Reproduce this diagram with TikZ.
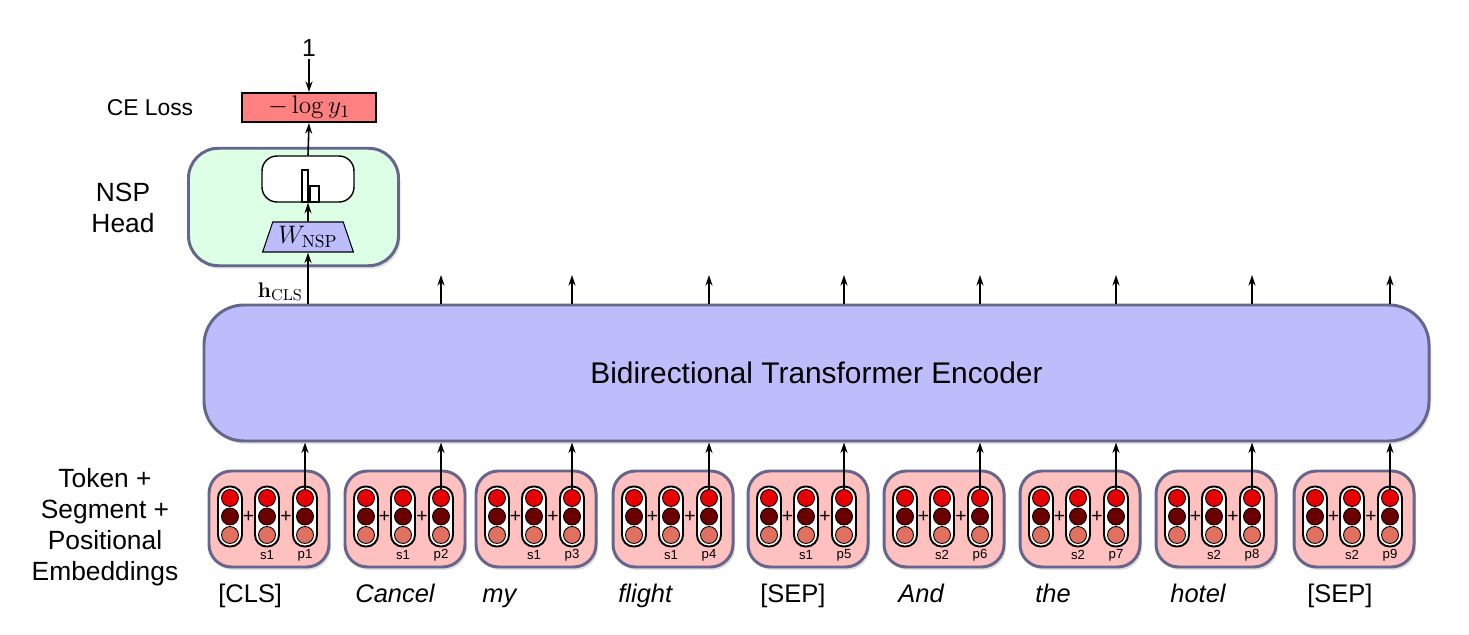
\documentclass[tikz,border=0pt]{standalone}
\usepackage[no-math]{fontspec}
\setmainfont{Liberation Sans}
\usetikzlibrary{shapes.geometric,arrows.meta,shadows}
\definecolor{encfill}{RGB}{189,189,252}
\definecolor{boxline}{RGB}{102,102,140}
\definecolor{embfill}{RGB}{255,192,192}
\definecolor{nspfill}{RGB}{221,255,229}
\definecolor{cefill}{RGB}{255,128,128}
\definecolor{dotA}{RGB}{230,0,0}
\definecolor{dotB}{RGB}{107,0,0}
\definecolor{dotC}{RGB}{224,112,96}
\tikzset{
  bigbox/.style={draw=boxline,line width=1.7pt,drop shadow={shadow xshift=0.4mm,shadow yshift=-0.6mm,opacity=0.25}},
  pill/.style={draw,line width=1.1pt,fill=white,rounded corners=0.23cm,minimum width=0.48cm,minimum height=1.2cm,inner sep=0pt},
  dot/.style={circle,draw,line width=0.5pt,minimum size=0.34cm,inner sep=0pt},
  arr/.style={->,line width=0.9pt},
}
\begin{document}
\begin{tikzpicture}[>={Stealth[length=6pt,width=4pt]}]
\useasboundingbox (0,0) rectangle (29.38,12.7);
\node[bigbox,fill=encfill,rounded corners=0.8cm,minimum width=24.5cm,minimum height=2.72cm,font=\fontsize{17}{20}\selectfont] (enc) at (16.33,5.24) {Bidirectional Transformer Encoder};
\foreach \cx/\wx/\w/\s [count=\i] in {5.38/4.36/{[CLS]}/s1, 8.10/7.10/{\itshape Cancel}/s1, 10.72/9.64/{\itshape my}/s1, 13.46/12.36/{\itshape flight}/s1, 16.16/15.20/{[SEP]}/s1, 18.88/17.96/{\itshape And}/s2, 21.60/20.70/{\itshape the}/s2, 24.32/23.40/{\itshape hotel}/s2, 27.08/26.14/{[SEP]}/s2}
{
\node[bigbox,fill=embfill,rounded corners=0.45cm,minimum width=2.4cm,minimum height=1.92cm] (emb\i) at (\cx,2.32) {};
\foreach \dx/\n in {-0.78/a,-0.04/b,0.72/c}
{
\node[pill] (p\n\i) at (\cx+\dx,2.37) {};
\node[dot,fill=dotA] (p\n\i-1) at ([yshift=0.37cm]p\n\i.center) {};
\node[dot,fill=dotB] (p\n\i-2) at (p\n\i.center) {};
\node[dot,fill=dotC] (p\n\i-3) at ([yshift=-0.37cm]p\n\i.center) {};
}
\node[inner sep=0pt,font=\fontsize{11}{12}\selectfont] (plA\i) at (\cx-0.41,2.37) {+};
\node[inner sep=0pt,font=\fontsize{11}{12}\selectfont] (plB\i) at (\cx+0.34,2.37) {+};
\node[font=\fontsize{7.5}{9}\selectfont] (seg\i) at (\cx-0.04,1.6) {\s};
\node[font=\fontsize{7.5}{9}\selectfont] (pos\i) at (\cx+0.72,1.6) {p\i};
\node[anchor=base west,inner sep=0pt,font=\fontsize{14.5}{17}\selectfont] (w\i) at (\wx,0.64) {\w};
\draw[arr] (pc\i-1.north) -- (pc\i-1.north |- enc.south);
\ifnum\i>1
\coordinate (o\i) at (\cx+0.72,7.2);
\draw[arr] (o\i |- enc.north) -- (o\i);
\fi
}
\node[bigbox,fill=nspfill,rounded corners=0.6cm,minimum width=4.2cm,minimum height=2.35cm] (nsp) at (5.87,8.56) {};
\node[draw,fill=white,line width=0.8pt,rounded corners=0.3cm,minimum width=1.84cm,minimum height=0.92cm] (sm) at (6.16,9.12) {};
\node[draw,line width=1.1pt,inner sep=0pt,minimum width=0.12cm,minimum height=0.64cm,anchor=south east] (bar1) at ([xshift=0.02cm]sm.south) {};
\node[draw,line width=1.1pt,inner sep=0pt,minimum width=0.18cm,minimum height=0.32cm,anchor=south west] (bar2) at ([xshift=0.02cm]sm.south) {};
\node[trapezium,trapezium angle=68,trapezium stretches=true,draw,fill=encfill,line width=0.6pt,minimum height=0.6cm,minimum width=1.82cm,inner sep=0pt,font=\fontsize{14}{16}\selectfont] (wnsp) at (6.16,7.96) {$W_{\mathrm{NSP}}$};
\node[draw,fill=cefill,line width=1.2pt,minimum width=2.68cm,minimum height=0.58cm,inner sep=0pt,font=\fontsize{14}{16}\selectfont] (ce) at (6.18,10.55) {$-\log y_1$};
\node[font=\fontsize{14}{16}\selectfont,inner sep=1pt] (one) at (6.18,11.74) {1};
\draw[arr] (one.south) -- (ce.north);
\draw[arr] (sm.north) -- (ce.south);
\draw[arr] (wnsp.north) -- (sm.south);
\draw[arr] (wnsp.south |- enc.north) -- (wnsp.south);
\node[anchor=south east,inner sep=1pt,font=\fontsize{13}{15}\selectfont] (hcls) at (6.1,6.64) {$\mathbf{h}_{\mathrm{CLS}}$};
\node[font=\fontsize{13}{15}\selectfont] (lce) at (3.0,10.54) {CE Loss};
\node[align=center,font=\fontsize{15}{17.6}\selectfont] (lnsp) at (2.46,8.54) {NSP\\Head};
\node[align=center,font=\fontsize{15}{17.6}\selectfont] (lemb) at (2.1,2.16) {Token +\\Segment +\\Positional\\Embeddings};
\end{tikzpicture}
\end{document}
